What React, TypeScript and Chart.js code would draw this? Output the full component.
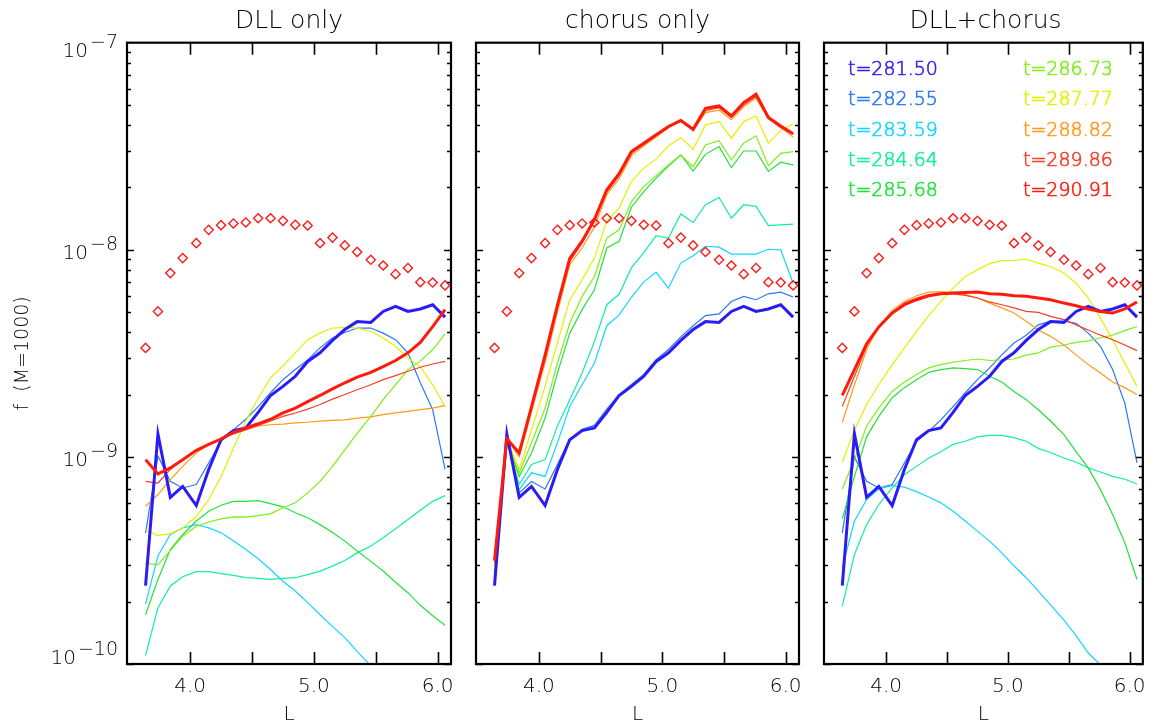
import React, { useEffect, useRef } from 'react';
import { Chart, registerables } from 'chart.js';

Chart.register(...registerables);

const FONT = "'DejaVu Sans', 'Liberation Sans', sans-serif";
const FW = '200';
const TEXT = '#000';

// L grid (x values of every curve and of the diamonds)
const lValues = [3.64, 3.74, 3.84, 3.94, 4.05, 4.15, 4.25, 4.35, 4.45, 4.55, 4.65, 4.75, 4.85, 4.95, 5.05, 5.15, 5.25, 5.35, 5.46, 5.56, 5.66, 5.76, 5.86, 5.96, 6.06];

const xTickValues = [4.0, 4.5, 5.0, 5.5, 6.0];
const yDecades = [1e-10, 1e-9, 1e-8, 1e-7];
const yDecadeExponents = ['\u221210', '\u22129', '\u22128', '\u22127'];

const timeLabels = ['281.50', '282.55', '283.59', '284.64', '285.68', '286.73', '287.77', '288.82', '289.86', '290.91'];
const lineColors = ['#2b1cf5', '#2a78f5', '#14d6ff', '#12eea0', '#22e23c', '#80ee18', '#e4f000', '#ff9a1a', '#f2402a', '#ff1a0a'];
const panelTitles = ['DLL only', 'chorus only', 'DLL+chorus'];

// red diamonds (same in every panel)
const diamonds = [3.36e-9, 5.04e-9, 7.72e-9, 9.12e-9, 1.076e-8, 1.248e-8, 1.315e-8, 1.34e-8, 1.355e-8, 1.42e-8, 1.42e-8, 1.38e-8, 1.32e-8, 1.31e-8, 1.076e-8, 1.146e-8, 1.05e-8, 9.77e-9, 8.95e-9, 8.4e-9, 7.63e-9, 8.17e-9, 6.98e-9, 6.95e-9, 6.73e-9];

// t=281.50 (initial profile, same in every panel)
const initial28150 = [2.39e-10, 1.29e-9, 6.38e-10, 7.2e-10, 5.82e-10, 8.7e-10, 1.21e-9, 1.34e-9, 1.38e-9, 1.64e-9, 1.98e-9, 2.19e-9, 2.45e-9, 2.89e-9, 3.18e-9, 3.65e-9, 4.12e-9, 4.5e-9, 4.46e-9, 5.04e-9, 5.33e-9, 5.04e-9, 5.18e-9, 5.43e-9, 4.73e-9];

// ---- DLL only
const dll28255 = [4.3e-10, 1.01e-9, 7.62e-10, 7.08e-10, 7.35e-10, 9.35e-10, 1.19e-9, 1.35e-9, 1.52e-9, 1.75e-9, 2.04e-9, 2.36e-9, 2.64e-9, 2.94e-9, 3.36e-9, 3.75e-9, 3.99e-9, 4.19e-9, 4.19e-9, 3.96e-9, 3.68e-9, 3.18e-9, 2.28e-9, 1.69e-9, 8.7e-10];
const dll28359 = [1.95e-10, 3.32e-10, 4.22e-10, 4.54e-10, 4.71e-10, 4.54e-10, 4.3e-10, 3.94e-10, 3.57e-10, 3.22e-10, 2.86e-10, 2.51e-10, 2.25e-10, 1.98e-10, 1.73e-10, 1.52e-10, 1.34e-10, 1.15e-10, 9.8e-11, 8.2e-11, 6.8e-11, 5.5e-11, 4.5e-11, 3.6e-11, 2.8e-11];
const dll28464 = [1.1e-10, 1.87e-10, 2.38e-10, 2.64e-10, 2.79e-10, 2.79e-10, 2.73e-10, 2.68e-10, 2.61e-10, 2.59e-10, 2.56e-10, 2.59e-10, 2.61e-10, 2.7e-10, 2.81e-10, 2.97e-10, 3.16e-10, 3.44e-10, 3.71e-10, 4.07e-10, 4.5e-10, 4.99e-10, 5.53e-10, 6.1e-10, 6.5e-10];
const dll28568 = [1.73e-10, 2.56e-10, 3.57e-10, 4.22e-10, 4.9e-10, 5.47e-10, 5.84e-10, 6.1e-10, 6.1e-10, 6.15e-10, 5.95e-10, 5.74e-10, 5.37e-10, 5.08e-10, 4.71e-10, 4.32e-10, 3.92e-10, 3.51e-10, 3.13e-10, 2.81e-10, 2.48e-10, 2.21e-10, 1.92e-10, 1.71e-10, 1.54e-10];
const dll28673 = [3.06e-10, 3.02e-10, 3.53e-10, 4.14e-10, 4.62e-10, 4.85e-10, 5.02e-10, 5.13e-10, 5.12e-10, 5.21e-10, 5.31e-10, 5.68e-10, 6.0e-10, 6.7e-10, 7.62e-10, 9.0e-10, 1.08e-9, 1.3e-9, 1.57e-9, 1.89e-9, 2.23e-9, 2.64e-9, 2.9e-9, 3.3e-9, 3.92e-9];
const dll28777 = [4.46e-10, 4.17e-10, 4.26e-10, 4.54e-10, 5.17e-10, 6.22e-10, 8.05e-10, 1.1e-9, 1.49e-9, 1.92e-9, 2.41e-9, 2.75e-9, 3.18e-9, 3.68e-9, 3.96e-9, 4.19e-9, 4.22e-9, 4.19e-9, 4.04e-9, 3.75e-9, 3.42e-9, 3.0e-9, 2.73e-9, 2.23e-9, 1.75e-9];
const dll28882 = [5.78e-10, 6.58e-10, 7.76e-10, 9.0e-10, 1.045e-9, 1.15e-9, 1.235e-9, 1.315e-9, 1.37e-9, 1.41e-9, 1.43e-9, 1.44e-9, 1.46e-9, 1.47e-9, 1.49e-9, 1.5e-9, 1.51e-9, 1.54e-9, 1.56e-9, 1.6e-9, 1.63e-9, 1.66e-9, 1.69e-9, 1.72e-9, 1.77e-9];
const dll28986 = [7.62e-10, 7.48e-10, 8.7e-10, 9.7e-10, 1.076e-9, 1.15e-9, 1.22e-9, 1.29e-9, 1.35e-9, 1.42e-9, 1.49e-9, 1.57e-9, 1.63e-9, 1.7e-9, 1.79e-9, 1.9e-9, 2.0e-9, 2.11e-9, 2.23e-9, 2.36e-9, 2.47e-9, 2.59e-9, 2.71e-9, 2.81e-9, 2.89e-9];
const dll29091 = [9.7e-10, 8.28e-10, 8.85e-10, 9.7e-10, 1.076e-9, 1.15e-9, 1.22e-9, 1.315e-9, 1.38e-9, 1.445e-9, 1.52e-9, 1.63e-9, 1.72e-9, 1.85e-9, 1.98e-9, 2.13e-9, 2.28e-9, 2.43e-9, 2.56e-9, 2.73e-9, 2.92e-9, 3.18e-9, 3.57e-9, 4.26e-9, 5.14e-9];

// ---- chorus only
const cho28255 = [2.45e-10, 1.27e-9, 6.7e-10, 7.6e-10, 7.0e-10, 9.2e-10, 1.22e-9, 1.36e-9, 1.42e-9, 1.7e-9, 2.0e-9, 2.24e-9, 2.5e-9, 2.95e-9, 3.3e-9, 3.8e-9, 4.3e-9, 4.81e-9, 4.9e-9, 5.63e-9, 5.96e-9, 5.74e-9, 6.13e-9, 6.25e-9, 5.92e-9];
const cho28359 = [2.5e-10, 1.22e-9, 6.95e-10, 8.38e-10, 8.05e-10, 1.17e-9, 1.75e-9, 2.23e-9, 2.84e-9, 4.3e-9, 4.85e-9, 5.9e-9, 7.0e-9, 7.78e-9, 6.53e-9, 8.63e-9, 9.35e-9, 1.04e-8, 1.03e-8, 9.53e-9, 9.53e-9, 9.53e-9, 1.006e-8, 1.0e-8, 6.9e-9];
const cho28464 = [2.6e-10, 1.2e-9, 7.35e-10, 9.2e-10, 9.7e-10, 1.41e-9, 1.89e-9, 2.54e-9, 3.61e-9, 5.43e-9, 6.1e-9, 8.2e-9, 9.7e-9, 1.17e-8, 1.14e-8, 1.49e-8, 1.355e-8, 1.65e-8, 1.79e-8, 1.42e-8, 1.65e-8, 1.62e-8, 1.31e-8, 1.32e-8, 1.33e-8];
const cho28568 = [2.7e-10, 1.2e-9, 8.05e-10, 1.045e-9, 1.54e-9, 2.54e-9, 3.96e-9, 5.14e-9, 6.41e-9, 1.02e-8, 1.1e-8, 1.61e-8, 1.91e-8, 2.22e-8, 2.54e-8, 2.87e-8, 2.4e-8, 2.89e-8, 3.15e-8, 2.49e-8, 3.0e-8, 3.0e-8, 2.39e-8, 2.65e-8, 2.57e-8];
const cho28673 = [2.8e-10, 1.2e-9, 8.38e-10, 1.17e-9, 1.72e-9, 2.84e-9, 4.42e-9, 5.96e-9, 7.43e-9, 1.14e-8, 1.25e-8, 1.71e-8, 2.02e-8, 2.28e-8, 2.57e-8, 2.87e-8, 2.52e-8, 3.21e-8, 3.36e-8, 2.72e-8, 3.27e-8, 3.55e-8, 2.55e-8, 2.92e-8, 2.98e-8];
const cho28777 = [2.9e-10, 1.22e-9, 8.7e-10, 1.35e-9, 2.19e-9, 3.55e-9, 5.74e-9, 7.16e-9, 9.12e-9, 1.38e-8, 1.59e-8, 2.14e-8, 2.48e-8, 2.74e-8, 3.18e-8, 3.48e-8, 3.06e-8, 4.01e-8, 4.16e-8, 3.46e-8, 4.16e-8, 4.43e-8, 3.27e-8, 3.77e-8, 4.06e-8];
const cho28882 = [3.0e-10, 1.22e-9, 1.0e-9, 1.65e-9, 2.85e-9, 5.0e-9, 8.47e-9, 1.02e-8, 1.29e-8, 1.85e-8, 2.2e-8, 2.85e-8, 3.18e-8, 3.5e-8, 3.88e-8, 4.25e-8, 3.75e-8, 4.6e-8, 4.72e-8, 4.25e-8, 4.9e-8, 5.4e-8, 4.3e-8, 3.9e-8, 3.5e-8];
const cho28986 = [3.1e-10, 1.22e-9, 1.03e-9, 1.72e-9, 3.0e-9, 5.3e-9, 8.8e-9, 1.08e-8, 1.38e-8, 1.9e-8, 2.28e-8, 2.93e-8, 3.22e-8, 3.55e-8, 3.9e-8, 4.18e-8, 3.78e-8, 4.7e-8, 4.85e-8, 4.35e-8, 5.0e-8, 5.5e-8, 4.3e-8, 3.9e-8, 3.6e-8];
const cho29091 = [3.16e-10, 1.225e-9, 1.045e-9, 1.75e-9, 3.1e-9, 5.4e-9, 9.1e-9, 1.1e-8, 1.4e-8, 1.95e-8, 2.33e-8, 2.98e-8, 3.27e-8, 3.59e-8, 3.94e-8, 4.21e-8, 3.82e-8, 4.82e-8, 4.95e-8, 4.43e-8, 5.14e-8, 5.64e-8, 4.36e-8, 3.96e-8, 3.63e-8];

// ---- DLL+chorus
const both28255 = [4.3e-10, 1.0e-9, 7.62e-10, 7.08e-10, 7.35e-10, 9.35e-10, 1.19e-9, 1.33e-9, 1.51e-9, 1.75e-9, 2.04e-9, 2.36e-9, 2.69e-9, 3.11e-9, 3.55e-9, 3.87e-9, 4.34e-9, 4.52e-9, 4.52e-9, 4.42e-9, 3.96e-9, 3.42e-9, 2.64e-9, 1.82e-9, 9.35e-10];
const both28359 = [2.91e-10, 4.9e-10, 6.22e-10, 7.0e-10, 7.27e-10, 7.15e-10, 6.8e-10, 6.4e-10, 6.0e-10, 5.47e-10, 4.9e-10, 4.38e-10, 3.92e-10, 3.44e-10, 2.98e-10, 2.61e-10, 2.25e-10, 1.93e-10, 1.63e-10, 1.37e-10, 1.13e-10, 9.9e-11, 8.3e-11, 7.0e-11, 5.8e-11];
const both28464 = [1.9e-10, 3.38e-10, 4.71e-10, 5.89e-10, 7.08e-10, 8.2e-10, 9.0e-10, 9.88e-10, 1.06e-9, 1.15e-9, 1.19e-9, 1.25e-9, 1.27e-9, 1.27e-9, 1.24e-9, 1.19e-9, 1.1e-9, 1.05e-9, 9.88e-10, 9.42e-10, 8.85e-10, 8.45e-10, 8.05e-10, 7.8e-10, 7.4e-10];
const both28568 = [5.02e-10, 8.05e-10, 1.25e-9, 1.57e-9, 1.93e-9, 2.16e-9, 2.36e-9, 2.56e-9, 2.64e-9, 2.69e-9, 2.67e-9, 2.64e-9, 2.45e-9, 2.3e-9, 2.07e-9, 1.89e-9, 1.69e-9, 1.49e-9, 1.28e-9, 1.06e-9, 8.85e-10, 6.95e-10, 5.27e-10, 3.85e-10, 2.56e-10];
const both28673 = [7.0e-10, 9.7e-10, 1.41e-9, 1.72e-9, 2.07e-9, 2.3e-9, 2.5e-9, 2.69e-9, 2.79e-9, 2.87e-9, 2.92e-9, 2.97e-9, 2.92e-9, 2.94e-9, 2.97e-9, 3.1e-9, 3.18e-9, 3.39e-9, 3.47e-9, 3.57e-9, 3.63e-9, 3.76e-9, 3.87e-9, 4.07e-9, 4.26e-9];
const both28777 = [9.42e-10, 1.35e-9, 1.79e-9, 2.23e-9, 2.79e-9, 3.36e-9, 4.04e-9, 4.81e-9, 5.63e-9, 6.53e-9, 7.43e-9, 8.0e-9, 8.58e-9, 8.87e-9, 8.9e-9, 9.0e-9, 8.63e-9, 8.3e-9, 7.72e-9, 6.9e-9, 5.85e-9, 4.68e-9, 3.68e-9, 2.84e-9, 2.19e-9];
const both28882 = [1.47e-9, 2.23e-9, 3.3e-9, 4.26e-9, 5.1e-9, 5.63e-9, 6.0e-9, 6.25e-9, 6.28e-9, 6.22e-9, 6.07e-9, 5.85e-9, 5.53e-9, 5.24e-9, 4.95e-9, 4.52e-9, 4.1e-9, 3.82e-9, 3.47e-9, 3.11e-9, 2.79e-9, 2.54e-9, 2.3e-9, 2.16e-9, 2.0e-9];
const both28986 = [1.75e-9, 2.45e-9, 3.42e-9, 4.26e-9, 5.0e-9, 5.53e-9, 5.85e-9, 6.07e-9, 6.13e-9, 6.13e-9, 6.03e-9, 5.85e-9, 5.6e-9, 5.43e-9, 5.24e-9, 5.04e-9, 4.99e-9, 4.77e-9, 4.6e-9, 4.34e-9, 4.1e-9, 3.87e-9, 3.68e-9, 3.47e-9, 3.26e-9];
const both29091 = [1.98e-9, 2.64e-9, 3.52e-9, 4.24e-9, 4.95e-9, 5.43e-9, 5.74e-9, 6.0e-9, 6.13e-9, 6.18e-9, 6.22e-9, 6.26e-9, 6.13e-9, 6.1e-9, 6.0e-9, 5.96e-9, 5.85e-9, 5.74e-9, 5.53e-9, 5.37e-9, 5.18e-9, 5.04e-9, 4.95e-9, 5.18e-9, 5.6e-9];

const panelSeries = [
  [initial28150, dll28255, dll28359, dll28464, dll28568, dll28673, dll28777, dll28882, dll28986, dll29091],
  [initial28150, cho28255, cho28359, cho28464, cho28568, cho28673, cho28777, cho28882, cho28986, cho29091],
  [initial28150, both28255, both28359, both28464, both28568, both28673, both28777, both28882, both28986, both29091],
];

// plot-area horizontal extents of the three panels (pixels)
const panelBounds = [[127, 451], [476, 799], [824, 1147]];

const W = 1157;
const H = 728;

const toPoints = (arr: number[]) => arr.map((v, i) => ({ x: lValues[i], y: v }));

function makeFramePlugin(panelIndex: number) {
  return {
    id: 'idlFrame' + panelIndex,
    afterDatasetsDraw(chart: any) {
      const { ctx, chartArea: a, scales } = chart;
      const xs = scales.x;
      const ys = scales.y;
      ctx.save();
      ctx.strokeStyle = '#000';
      ctx.lineWidth = 1.6;
      ctx.beginPath();
      for (const v of xTickValues) {
        const px = Math.round(xs.getPixelForValue(v)) + 0.5;
        ctx.moveTo(px, a.bottom);
        ctx.lineTo(px, a.bottom - 12);
        ctx.moveTo(px, a.top);
        ctx.lineTo(px, a.top + 12);
      }
      for (let d = -10; d < -7; d++) {
        for (let k = 1; k <= 9; k++) {
          const v = k * Math.pow(10, d);
          const py = Math.round(ys.getPixelForValue(v)) + 0.5;
          const len = k === 1 ? 7 : 4;
          ctx.moveTo(a.left, py);
          ctx.lineTo(a.left + len, py);
          ctx.moveTo(a.right, py);
          ctx.lineTo(a.right - len, py);
        }
      }
      ctx.stroke();
      ctx.lineWidth = 2.2;
      ctx.strokeRect(a.left, a.top, a.right - a.left, a.bottom - a.top);

      if (panelIndex === 0) {
        ctx.fillStyle = TEXT;
        ctx.textBaseline = 'alphabetic';
        yDecades.forEach((v, i) => {
          const py = ys.getPixelForValue(v);
          let base = py + 8.7;
          if (i === yDecades.length - 1) base = py + 14.5;
          if (i === 0) base = py;
          const rightEdge = a.left - 9;
          ctx.font = `${FW} 19px ${FONT}`;
          ctx.textAlign = 'right';
          ctx.fillText(yDecadeExponents[i], rightEdge, base - 9);
          const supW = ctx.measureText(yDecadeExponents[i]).width;
          ctx.font = `${FW} 20px ${FONT}`;
          ctx.fillText('10', rightEdge - supW - 2, base);
        });
        ctx.save();
        ctx.translate(23, (a.top + a.bottom) / 2);
        ctx.rotate(-Math.PI / 2);
        ctx.textAlign = 'center';
        ctx.textBaseline = 'middle';
        ctx.font = `${FW} 19px ${FONT}`;
        ctx.fillText('f  (M=1000)', 0, 0);
        ctx.restore();
      }

      if (panelIndex === 2) {
        ctx.font = `${FW} 19px ${FONT}`;
        ctx.textAlign = 'left';
        ctx.textBaseline = 'alphabetic';
        ctx.lineWidth = 0.6;
        timeLabels.forEach((t, i) => {
          const col = i < 5 ? 0 : 1;
          const row = i % 5;
          const tx = a.left + 24 + col * 175;
          const ty = 75 + row * 30.3;
          ctx.fillStyle = lineColors[i];
          ctx.strokeStyle = lineColors[i];
          ctx.fillText('t=' + t, tx, ty);
          ctx.strokeText('t=' + t, tx, ty);
        });
      }
      ctx.restore();
    },
  };
}

function buildConfig(panelIndex: number): any {
  const series = panelSeries[panelIndex];
  const [left, right] = panelBounds[panelIndex];
  const datasets: any[] = [
    {
      label: 'diamonds',
      data: toPoints(diamonds),
      showLine: false,
      pointStyle: 'rectRot',
      pointRadius: 4.6,
      pointBorderWidth: 1.4,
      pointBorderColor: '#ff1a1a',
      pointBackgroundColor: 'rgba(0,0,0,0)',
      order: 0,
    },
  ];
  series.forEach((arr, i) => {
    const thick = i === 0 || i === series.length - 1;
    datasets.push({
      label: 't=' + timeLabels[i],
      data: toPoints(arr),
      borderColor: lineColors[i],
      borderWidth: thick ? 3 : 1.2,
      pointRadius: 0,
      tension: 0,
      fill: false,
      order: i === series.length - 1 ? 1 : i === 0 ? 2 : 13 - i,
    });
  });
  return {
    type: 'line',
    data: { datasets },
    plugins: [makeFramePlugin(panelIndex)],
    options: {
      responsive: false,
      animation: false,
      events: [],
      layout: { padding: { left, right: W - right, top: 0, bottom: 0 } },
      plugins: {
        legend: { display: false },
        tooltip: { enabled: false },
        title: {
          display: true,
          text: panelTitles[panelIndex],
          color: TEXT,
          font: { family: FONT, size: 25, weight: FW, lineHeight: 1.2 },
          padding: { top: 6, bottom: 6.7 },
        },
      },
      scales: {
        x: {
          type: 'linear',
          min: 3.49,
          max: 6.108,
          grid: { display: false, drawTicks: false },
          border: { display: false },
          afterBuildTicks: (scale: any) => {
            scale.ticks = xTickValues.map((v) => ({ value: v }));
          },
          afterFit: (scale: any) => {
            scale.height = 64;
          },
          ticks: {
            autoSkip: false,
            maxRotation: 0,
            minRotation: 0,
            padding: 11,
            color: TEXT,
            font: { family: FONT, size: 20, weight: FW },
            callback: (v: any) => (Number.isInteger(Number(v)) ? Number(v).toFixed(1) : ''),
          },
          title: {
            display: true,
            text: 'L',
            color: TEXT,
            font: { family: FONT, size: 20, weight: FW },
            padding: { top: 0, bottom: 1 },
          },
        },
        y: {
          type: 'logarithmic',
          min: 1e-10,
          max: 1e-7,
          display: false,
        },
      },
    },
  };
}

export default function App() {
  const ref0 = useRef<HTMLCanvasElement | null>(null);
  const ref1 = useRef<HTMLCanvasElement | null>(null);
  const ref2 = useRef<HTMLCanvasElement | null>(null);

  useEffect(() => {
    const canvases = [ref0.current, ref1.current, ref2.current];
    const charts = canvases.map((c, i) => new Chart(c as HTMLCanvasElement, buildConfig(i)));
    return () => charts.forEach((ch) => ch.destroy());
  }, []);

  const style: React.CSSProperties = { position: 'absolute', left: 0, top: 0, width: W, height: H };
  return (
    <div style={{ position: 'fixed', left: 0, top: 0, width: W, height: H, background: '#fff', overflow: 'hidden' }}>
      <canvas ref={ref0} width={W} height={H} style={style} />
      <canvas ref={ref1} width={W} height={H} style={style} />
      <canvas ref={ref2} width={W} height={H} style={style} />
    </div>
  );
}
